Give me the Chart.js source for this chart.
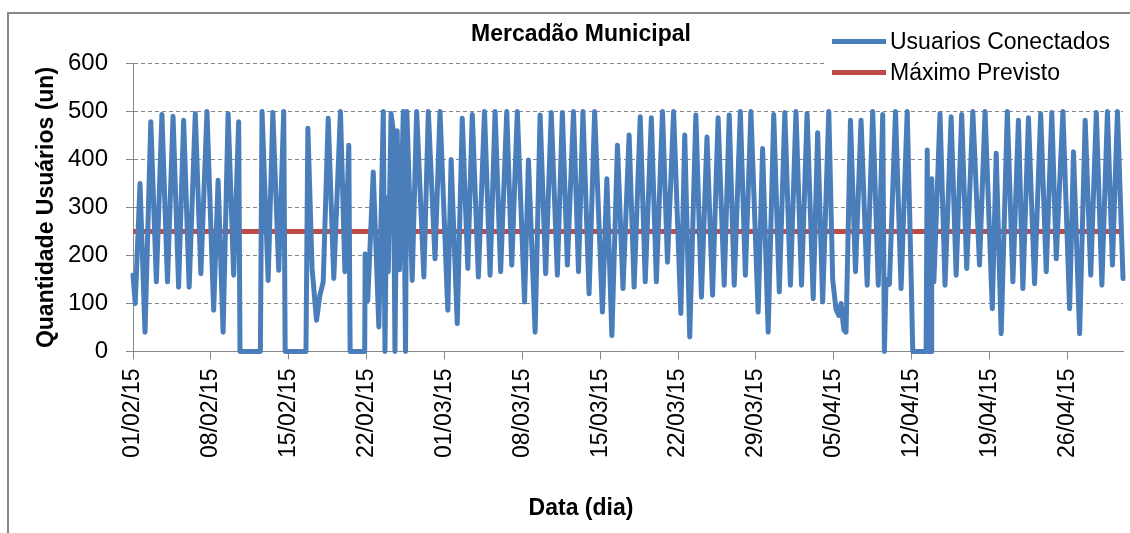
<!DOCTYPE html>
<html lang="pt-BR">
<head>
<meta charset="UTF-8" />
<title>Mercadão Municipal</title>
<script src="https://cdn.jsdelivr.net/npm/chart.js"></script>
<style>
  html, body { margin: 0; padding: 0; background: #fff; overflow: hidden; }
  #moldura {
    position: absolute;
    left: 7px;
    top: 12px;
    width: 1140px;
    height: 530px;
    border: 2px solid #878787;
  }
  #moldura canvas { display: block; }
</style>
</head>
<body>
<div id="moldura"><canvas id="grafico" width="1140" height="519"></canvas></div>

<script>
  // [dia desde 01/02/15, usuarios conectados]
  const semana1 = [[0, 159], [0.2, 100], [0.63, 350], [1.08, 40], [1.6, 479], [2.1, 145], [2.6, 494], [3.1, 145],
    [3.6, 490], [4.1, 134], [4.55, 482], [5.05, 134], [5.6, 496], [6.1, 162], [6.65, 500], [7.25, 86], [7.65, 357]];
  const semana2 = [[8.1, 40], [8.55, 496], [9.05, 159], [9.5, 479], [9.62, 0], [11.45, 0], [11.6, 500], [12.15, 148],
    [12.57, 498], [13.1, 169], [13.55, 500], [13.68, 0]];
  const semana3 = [[15.55, 0], [15.72, 465], [16.1, 173], [16.5, 65], [16.8, 117], [17.1, 145], [17.55, 486],
    [18.05, 152], [18.65, 500], [19.05, 166], [19.4, 430], [19.52, 0], [20.83, 0], [20.87, 203], [21.1, 106]];
  const semana4 = [[21.6, 374], [22.1, 51], [22.5, 500], [22.65, 0], [22.8, 320], [22.95, 166], [23.2, 496],
    [23.4, 460], [23.55, 0], [23.75, 460], [23.95, 170], [24.3, 500], [24.5, 0], [24.62, 500], [25.1, 148],
    [25.5, 500], [26.15, 155], [26.55, 500], [27.15, 193], [27.6, 500]];
  const semana5 = [[28.3, 86], [28.6, 400], [29.15, 58], [29.6, 486], [30.1, 173], [30.5, 494], [31.05, 155],
    [31.6, 500], [32.1, 159], [32.55, 500], [33.05, 166], [33.6, 500], [34.05, 180], [34.55, 500]];
  const semana6 = [[35.2, 103], [35.55, 399], [36.15, 40], [36.6, 493], [37.1, 162], [37.6, 498], [38.15, 159],
    [38.6, 498], [39.05, 180], [39.6, 500], [40.05, 166], [40.45, 500], [41.0, 120], [41.5, 500]];
  const semana7 = [[42.2, 82], [42.6, 360], [43.05, 33], [43.55, 430], [44.05, 131], [44.6, 451], [45.05, 134],
    [45.6, 489], [46.05, 145], [46.6, 487], [47.05, 145], [47.6, 500], [48.05, 186], [48.6, 500]];
  const semana8 = [[49.25, 79], [49.6, 451], [50.05, 30], [50.6, 493], [51.1, 113], [51.6, 447], [52.1, 117],
    [52.6, 487], [53.15, 138], [53.6, 493], [54.05, 138], [54.6, 500], [55.05, 159], [55.55, 500]];
  const semana9 = [[56.2, 82], [56.6, 423], [57.1, 40], [57.6, 494], [58.1, 124], [58.6, 498], [59.1, 138],
    [59.6, 500], [60.1, 138], [60.6, 496], [61.15, 110], [61.55, 456], [62.0, 103], [62.55, 500]];
  const semana10 = [[62.9, 150], [63.2, 88], [63.45, 75], [63.65, 100], [63.9, 45], [64.1, 40], [64.5, 482],
    [64.95, 166], [65.45, 482], [66.0, 138], [66.5, 500], [67.0, 138], [67.4, 494], [67.55, 0], [67.7, 150],
    [68.0, 140], [68.55, 500], [69.05, 131], [69.6, 500], [69.95, 160], [70.1, 0]];
  const semana11 = [[71.3, 0], [71.4, 420], [71.5, 0], [71.75, 0], [71.8, 360], [72.0, 145], [72.55, 496],
    [73.0, 138], [73.55, 489], [74.0, 159], [74.5, 494], [74.95, 173], [75.5, 500], [76.1, 180], [76.6, 500]];
  const semana12 = [[77.25, 89], [77.6, 413], [78.05, 37], [78.6, 500], [79.1, 145], [79.6, 482], [80.0, 131],
    [80.5, 487], [81.05, 141], [81.6, 496], [82.1, 166], [82.6, 498], [83.0, 193], [83.6, 500]];
  const semana13 = [[84.2, 89], [84.55, 416], [85.1, 37], [85.6, 482], [86.1, 159], [86.6, 498], [87.1, 138],
    [87.6, 500], [88.05, 180], [88.5, 500], [89.0, 152]];

  const maximoPrevisto = 250;
  const totalDias = 89;
  const rotulosX = ['01/02/15', '08/02/15', '15/02/15', '22/02/15', '01/03/15', '08/03/15', '15/03/15',
    '22/03/15', '29/03/15', '05/04/15', '12/04/15', '19/04/15', '26/04/15'];

  const usuarios = [].concat(semana1, semana2, semana3, semana4, semana5, semana6, semana7,
    semana8, semana9, semana10, semana11, semana12, semana13).map(([x, y]) => ({ x, y }));
  const maximo = [{ x: 0, y: maximoPrevisto }, { x: totalDias, y: maximoPrevisto }];

  const cinza = '#878787';
  Chart.defaults.font.family = '"Liberation Sans", Arial, sans-serif';
  Chart.defaults.color = '#000';

  // legenda desenhada dentro do grafico, canto superior direito
  const legenda = {
    id: 'legenda',
    afterDraw(chart) {
      const { ctx, chartArea } = chart;
      const x0 = chartArea.right - 291;
      ctx.save();
      ctx.fillStyle = '#fff';
      ctx.fillRect(x0 - 7, chartArea.top - 40, 340, 56);
      ctx.font = '23px "Liberation Sans", Arial, sans-serif';
      ctx.textBaseline = 'middle';
      chart.data.datasets.forEach((ds, i) => {
        const y = chartArea.top - 22 + i * 31;
        ctx.strokeStyle = ds.borderColor;
        ctx.lineWidth = ds.borderWidth;
        ctx.beginPath();
        ctx.moveTo(x0, y);
        ctx.lineTo(x0 + 54, y);
        ctx.stroke();
        ctx.fillStyle = '#000';
        ctx.fillText(ds.label, x0 + 58, y + 1);
      });
      ctx.restore();
    }
  };

  const ctx = document.getElementById('grafico').getContext('2d');
  new Chart(ctx, {
    type: 'line',
    data: {
      datasets: [
        { label: 'Usuarios Conectados', data: usuarios, borderColor: '#4a7ebb', borderWidth: 5,
          pointRadius: 0, tension: 0, borderJoinStyle: 'round', borderCapStyle: 'round', clip: false },
        { label: 'Máximo Previsto', data: maximo, borderColor: '#be4b48', borderWidth: 5,
          pointRadius: 0, clip: false }
      ]
    },
    options: {
      responsive: false,
      animation: false,
      layout: { padding: { left: 30, right: 26, top: 0, bottom: 0 } },
      plugins: {
        legend: { display: false },
        tooltip: { enabled: false },
        title: {
          display: true, text: 'Mercadão Municipal', color: '#000',
          font: { size: 23, weight: 'bold' }, padding: { top: 7, bottom: 15 }
        },
        subtitle: {
          display: true, position: 'bottom', text: 'Data (dia)', color: '#000',
          font: { size: 23, weight: 'bold' }, padding: { top: 0, bottom: 11 }
        }
      },
      scales: {
        x: {
          type: 'linear', min: 0, max: totalDias,
          afterFit: s => { s.height = 143; },
          grid: { drawOnChartArea: false, tickLength: 8, color: cinza },
          border: { color: cinza },
          ticks: {
            stepSize: 7, includeBounds: false, autoSkip: false, maxTicksLimit: 20,
            maxRotation: 90, minRotation: 90, padding: 9, color: '#000', font: { size: 23 },
            callback: (v, i) => rotulosX[i]
          }
        },
        y: {
          min: 0, max: 600,
          afterFit: s => { s.width = 94; },
          grid: { color: cinza, tickLength: 7, tickBorderDash: [] },
          border: { color: cinza, dash: [4, 3] },
          ticks: { stepSize: 100, padding: 18, color: '#000', font: { size: 24 } },
          title: {
            display: true, text: 'Quantidade Usuários (un)', color: '#000',
            font: { size: 23, weight: 'bold' }, padding: { top: -6, bottom: 0 }
          }
        }
      }
    },
    plugins: [legenda]
  });
</script>
</body>
</html>
